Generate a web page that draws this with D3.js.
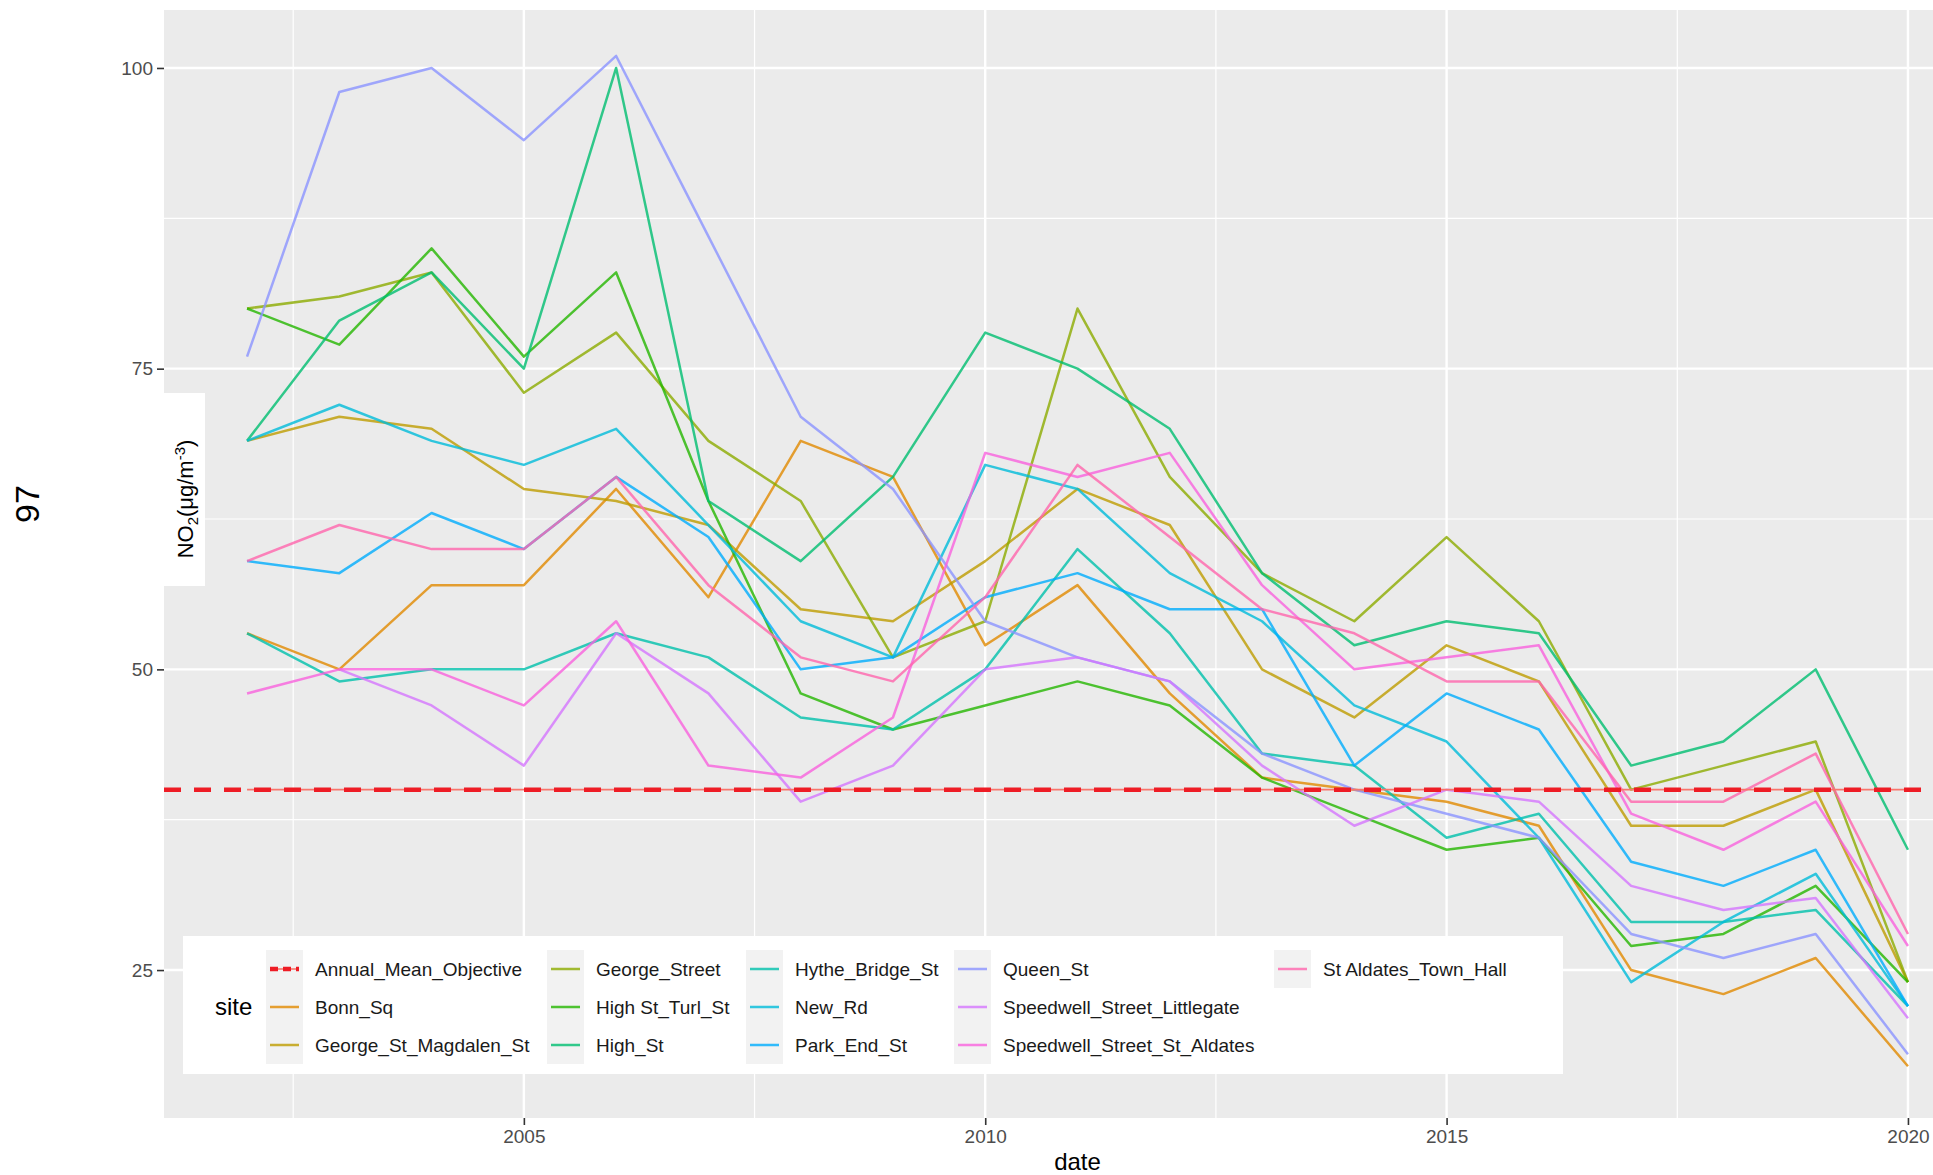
<!DOCTYPE html>
<html>
<head>
<meta charset="utf-8">
<script src="https://cdn.jsdelivr.net/npm/d3@7"></script>
<style>
  body { margin: 0; background: #ffffff; }
  svg { display: block; font-family: "Liberation Sans", Arial, Helvetica, sans-serif; }
</style>
</head>
<body>
<svg id="chart" width="1933" height="1175"></svg>
<script>
// ---------------- DATA ----------------
const years = [2002, 2003, 2004, 2005, 2006, 2007, 2008, 2009, 2010, 2011, 2012, 2013, 2014, 2015, 2016, 2017, 2018, 2019, 2020];

const siteNames = ["Annual_Mean_Objective", "Bonn_Sq", "George_St_Magdalen_St", "George_Street", "High St_Turl_St", "High_St",
  "Hythe_Bridge_St", "New_Rd", "Park_End_St", "Queen_St", "Speedwell_Street_Littlegate", "Speedwell_Street_St_Aldates", "St Aldates_Town_Hall"];

const siteColors = ["#F8766D", "#E18A00", "#BE9C00", "#8CAB00", "#24B700", "#00BE70",
  "#00C1AB", "#00BBDA", "#00ACFC", "#8B93FF", "#D575FE", "#F962DD", "#FF65AC"];

const annualMeanObjective = [40, 40, 40, 40, 40, 40, 40, 40, 40, 40, 40, 40, 40, 40, 40, 40, 40, 40, 40];
const bonnSq              = [53, 50, 57, 57, 65, 56, 69, 66, 52, 57, 48, 41, 40, 39, 37, 25, 23, 26, 17];
const georgeStMagdalenSt  = [69, 71, 70, 65, 64, 62, 55, 54, 59, 65, 62, 50, 46, 52, 49, 37, 37, 40, 24];
const georgeStreet        = [80, 81, 83, 73, 78, 69, 64, 51, 54, 80, 66, 58, 54, 61, 54, 40, 42, 44, 24];
const highStTurlSt        = [80, 77, 85, 76, 83, 64, 48, 45, 47, 49, 47, 41, 38, 35, 36, 27, 28, 32, 24];
const highSt              = [69, 79, 83, 75, 100, 64, 59, 66, 78, 75, 70, 58, 52, 54, 53, 42, 44, 50, 35];
const hytheBridgeSt       = [53, 49, 50, 50, 53, 51, 46, 45, 50, 60, 53, 43, 42, 36, 38, 29, 29, 30, 22];
const newRd               = [69, 72, 69, 67, 70, 62, 54, 51, 67, 65, 58, 54, 47, 44, 36, 24, 29, 33, 22];
const parkEndSt           = [59, 58, 63, 60, 66, 61, 50, 51, 56, 58, 55, 55, 42, 48, 45, 34, 32, 35, 22];
const queenSt             = [76, 98, 100, 94, 101, 86, 71, 65, 54, 51, 49, 43, 40, 38, 36, 28, 26, 28, 18];
const speedwellLittlegate = [null, 50, 47, 42, 53, 48, 39, 42, 50, 51, 49, 42, 37, 40, 39, 32, 30, 31, 21];
const speedwellStAldates  = [48, 50, 50, 47, 54, 42, 41, 46, 68, 66, 68, 57, 50, 51, 52, 38, 35, 39, 27];
const stAldatesTownHall   = [59, 62, 60, 60, 66, 57, 51, 49, 56, 67, 61, 55, 53, 49, 49, 39, 39, 43, 28];

const objectiveLevel = 40;
const yTickValues = [25, 50, 75, 100];
const yMinorValues = [37.5, 62.5, 87.5];
const xTickValues = [2005, 2010, 2015, 2020];
const xMinorValues = [2002.5, 2007.5, 2012.5, 2017.5];
const xTitle = "date";
const legendTitle = "site";
const pageNumber = "97";

const seriesValues = [annualMeanObjective, bonnSq, georgeStMagdalenSt, georgeStreet, highStTurlSt, highSt,
  hytheBridgeSt, newRd, parkEndSt, queenSt, speedwellLittlegate, speedwellStAldates, stAldatesTownHall];

const series = siteNames.map((name, i) => ({
  name, color: siteColors[i],
  points: years.map((yr, j) => ({ year: yr, value: seriesValues[i][j] }))
}));

// ---------------- LAYOUT ----------------
const svg = d3.select("#chart");
const panel = { left: 164, top: 10, right: 1991, bottom: 1118 };

const x = d3.scaleLinear().domain([2001.1, 2020.9]).range([panel.left, panel.right]);
const y = d3.scaleLinear().domain([12.7, 104.82]).range([panel.bottom, panel.top]);

svg.append("rect").attr("width", 1933).attr("height", 1175).attr("fill", "#ffffff");

// page number
svg.append("text")
  .attr("transform", "translate(39,504) rotate(-90)")
  .attr("text-anchor", "middle")
  .attr("font-size", 34)
  .attr("fill", "#000")
  .text(pageNumber);

// panel background
svg.append("rect")
  .attr("x", panel.left).attr("y", panel.top)
  .attr("width", panel.right - panel.left).attr("height", panel.bottom - panel.top)
  .attr("fill", "#EBEBEB");

const grid = svg.append("g");
grid.selectAll(".ymin").data(yMinorValues).join("line")
  .attr("x1", panel.left).attr("x2", panel.right)
  .attr("y1", d => y(d)).attr("y2", d => y(d))
  .attr("stroke", "#ffffff").attr("stroke-width", 1.2);
grid.selectAll(".xmin").data(xMinorValues).join("line")
  .attr("y1", panel.top).attr("y2", panel.bottom)
  .attr("x1", d => x(d)).attr("x2", d => x(d))
  .attr("stroke", "#ffffff").attr("stroke-width", 1.2);
grid.selectAll(".ymaj").data(yTickValues).join("line")
  .attr("x1", panel.left).attr("x2", panel.right)
  .attr("y1", d => y(d)).attr("y2", d => y(d))
  .attr("stroke", "#ffffff").attr("stroke-width", 2.4);
grid.selectAll(".xmaj").data(xTickValues).join("line")
  .attr("y1", panel.top).attr("y2", panel.bottom)
  .attr("x1", d => x(d)).attr("x2", d => x(d))
  .attr("stroke", "#ffffff").attr("stroke-width", 2.4);

// clip
svg.append("clipPath").attr("id", "clip").append("rect")
  .attr("x", panel.left).attr("y", panel.top)
  .attr("width", panel.right - panel.left).attr("height", panel.bottom - panel.top);

const line = d3.line()
  .defined(d => d.value !== null)
  .x(d => x(d.year)).y(d => y(d.value));

const lines = svg.append("g").attr("clip-path", "url(#clip)");
lines.selectAll("path.site").data(series.slice(1)).join("path")
  .attr("class", "site")
  .attr("d", d => line(d.points))
  .attr("fill", "none")
  .attr("stroke", d => d.color)
  .attr("stroke-width", 2.5)
  .attr("stroke-opacity", 0.8)
  .attr("stroke-linejoin", "round");

// objective line: thin hue line + red dashed line across panel
lines.append("path")
  .attr("d", line(series[0].points))
  .attr("fill", "none").attr("stroke", series[0].color).attr("stroke-width", 1.6);
lines.append("line")
  .attr("x1", panel.left).attr("x2", panel.right)
  .attr("y1", y(objectiveLevel)).attr("y2", y(objectiveLevel))
  .attr("stroke", "#EE1C25").attr("stroke-width", 4.5)
  .attr("stroke-dasharray", "17,13");

// axes
const yAxis = svg.append("g").attr("transform", `translate(${panel.left},0)`)
  .call(d3.axisLeft(y).tickValues(yTickValues).tickSize(7).tickPadding(4).tickFormat(d3.format("d")));
const xAxis = svg.append("g").attr("transform", `translate(0,${panel.bottom})`)
  .call(d3.axisBottom(x).tickValues(xTickValues).tickSize(7).tickPadding(5).tickFormat(d3.format("d")));
[yAxis, xAxis].forEach(a => {
  a.select(".domain").remove();
  a.selectAll(".tick line").attr("stroke", "#333333").attr("stroke-width", 1.6);
  a.selectAll(".tick text").attr("fill", "#4D4D4D").attr("font-size", 19)
    .attr("font-family", "Liberation Sans, Arial, sans-serif");
});

// x title
svg.append("text")
  .attr("x", (panel.left + panel.right) / 2).attr("y", 1170)
  .attr("text-anchor", "middle").attr("font-size", 24).attr("fill", "#000")
  .text(xTitle);

// y title with white box
svg.append("rect").attr("x", panel.left).attr("y", 393).attr("width", 41).attr("height", 193).attr("fill", "#ffffff");
const yt = svg.append("text")
  .attr("transform", "translate(193,499) rotate(-90)")
  .attr("text-anchor", "middle").attr("font-size", 22).attr("fill", "#000");
yt.append("tspan").text("NO");
yt.append("tspan").attr("font-size", 15).attr("dy", 5).text("2");
yt.append("tspan").attr("dy", -5).text("(μg/m");
yt.append("tspan").attr("font-size", 15).attr("dy", -8).text("-3");
yt.append("tspan").attr("dy", 8).text(")");

// legend
const legend = svg.append("g");
legend.append("rect").attr("x", 183).attr("y", 936).attr("width", 1380).attr("height", 138).attr("fill", "#ffffff");
legend.append("text").attr("x", 215).attr("y", 1015).attr("font-size", 24).attr("fill", "#000").text(legendTitle);

const keyX = [266, 547, 746, 954, 1274];
const rowY = [969, 1007, 1045];
const keyW = 37, keyH = 38;
series.forEach((s, i) => {
  const col = Math.floor(i / 3), row = i % 3;
  const kx = keyX[col], cy = rowY[row];
  const g = legend.append("g");
  g.append("rect").attr("x", kx).attr("y", cy - keyH / 2).attr("width", keyW).attr("height", keyH).attr("fill", "#F2F2F2");
  if (i === 0) {
    g.append("line").attr("x1", kx + 4).attr("x2", kx + keyW - 4).attr("y1", cy).attr("y2", cy)
      .attr("stroke", s.color).attr("stroke-width", 1.6);
    g.append("line").attr("x1", kx + 4).attr("x2", kx + keyW - 4).attr("y1", cy).attr("y2", cy)
      .attr("stroke", "#EE1C25").attr("stroke-width", 4.5).attr("stroke-dasharray", "8,5");
  } else {
    g.append("line").attr("x1", kx + 4).attr("x2", kx + keyW - 4).attr("y1", cy).attr("y2", cy)
      .attr("stroke", s.color).attr("stroke-width", 2.5).attr("stroke-opacity", 0.8);
  }
  g.append("text").attr("x", kx + 49).attr("y", cy + 7).attr("font-size", 19).attr("fill", "#1A1A1A").text(s.name);
});
</script>
</body>
</html>
